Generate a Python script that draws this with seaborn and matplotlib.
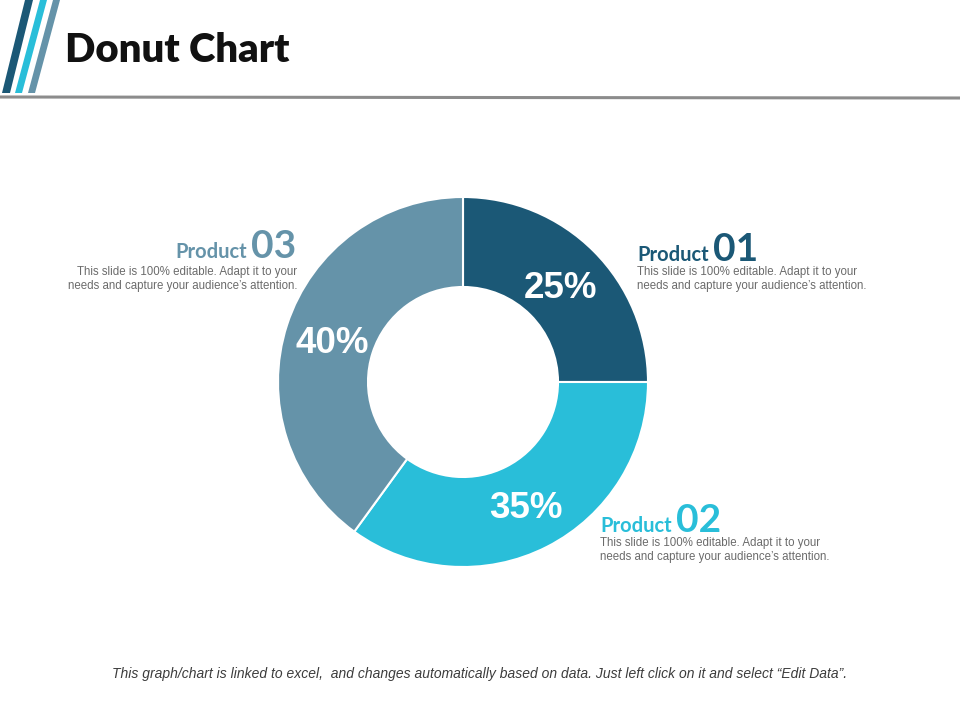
import matplotlib
matplotlib.use("Agg")
import matplotlib.pyplot as plt
from matplotlib.patches import Polygon
import seaborn as sns

# ---- data ----
products = ["Product 01", "Product 02", "Product 03"]
numbers = ["01", "02", "03"]
shares = [25, 35, 40]
colors = ["#1b5876", "#29bed9", "#6593a9"]
title = "Donut Chart"
desc = "This slide is 100% editable. Adapt it to your\nneeds and capture your audience\u2019s attention."
footer = ("This graph/chart is linked to excel,  and changes automatically based on data. "
          "Just left click on it and select \u201cEdit Data\u201d.")

sns.set_theme(style="white")
plt.rcParams["font.family"] = ["Liberation Sans", "DejaVu Sans"]

W, H = 960, 720
fig = plt.figure(figsize=(9.6, 7.2), dpi=100)
fig.patch.set_facecolor("white")
ax = fig.add_axes([0, 0, 1, 1])

def Y(py):
    return H - py

palette = sns.color_palette(colors)
cx, cy, R = 463, 382, 185
wedges, texts, autotexts = ax.pie(
    shares, colors=palette, startangle=90, counterclock=False,
    radius=R, center=(cx, Y(cy)),
    wedgeprops=dict(width=90, edgecolor="white", linewidth=1.5),
    autopct="%d%%", pctdistance=0.745,
    textprops=dict(color="white", fontsize=26.5, fontweight="bold", family="Liberation Sans"),
)
for t in autotexts:
    t.set_va("center_baseline")
ax.set_xlim(0, W)
ax.set_ylim(0, H)
ax.set_aspect("equal")
ax.axis("off")

# header decoration
stripes = [
    ([(2, 93), (10, 93), (33, 0), (25, 0)], colors[0]),
    ([(15, 93), (22, 93), (47, 0), (40, 0)], colors[1]),
    ([(28, 93), (35, 93), (60, 0), (53, 0)], colors[2]),
]
for pts, c in stripes:
    ax.add_patch(Polygon([(x, Y(y)) for x, y in pts], closed=True, color=c, lw=0))
ax.plot([0, 960], [Y(97), Y(98)], color="#8c8c8c", lw=2.2, solid_capstyle="butt")

ax.text(65, Y(50), title, fontsize=28.8, fontweight="heavy", family=["Lato", "DejaVu Sans"],
        color="#111111", va="center", ha="left")

# product labels
fig.canvas.draw()
renderer = fig.canvas.get_renderer()
inv = ax.transData.inverted()

def product_label(x, base, num, color, align):
    kw_p = dict(fontsize=14.5, fontweight="bold", family=["Lato", "DejaVu Sans"], color=color, va="baseline")
    kw_n = dict(fontsize=28, fontweight="bold", family=["Lato", "DejaVu Sans"], color=color, va="baseline")
    if align == "left":
        t = ax.text(x, Y(base), "Product", ha="left", **kw_p)
        bb = t.get_window_extent(renderer)
        x2 = inv.transform((bb.x1, 0))[0] + 4
        ax.text(x2, Y(base), num, ha="left", **kw_n)
    else:
        t = ax.text(x, Y(base), num, ha="right", **kw_n)
        bb = t.get_window_extent(renderer)
        x2 = inv.transform((bb.x0, 0))[0] - 4
        ax.text(x2, Y(base), "Product", ha="right", **kw_p)

def description(x, ymid, align):
    ax.text(x, Y(ymid), desc, ha=align, va="center", fontsize=8.3, color="#6b6b6b",
            linespacing=1.2)

product_label(637, 261, numbers[0], colors[0], "left")
description(637, 279, "left")
product_label(600, 532, numbers[1], colors[1], "left")
description(600, 550, "left")
product_label(296, 258, numbers[2], colors[2], "right")
description(297, 279, "right")

ax.text(480, Y(674), footer, ha="center", va="center", fontsize=10, style="italic", color="#3c3c3c")

fig.savefig("out.png", dpi=100, facecolor="white")
